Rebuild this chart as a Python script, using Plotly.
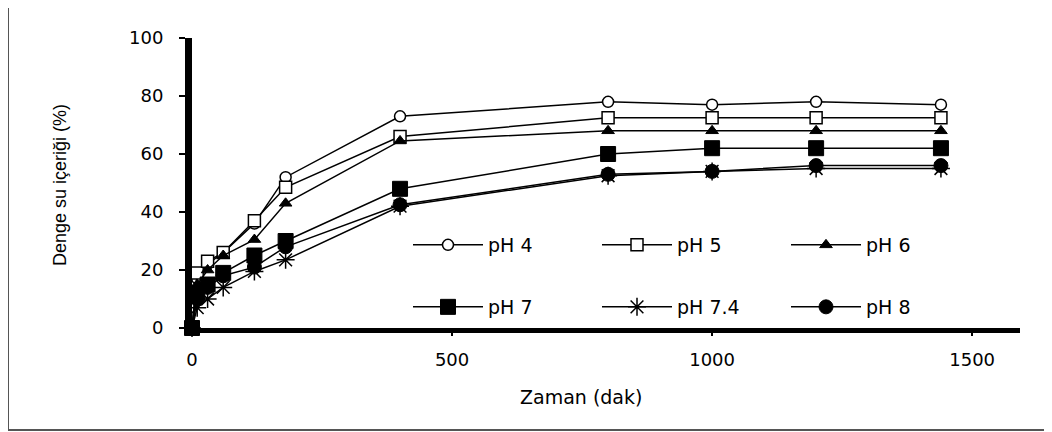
import plotly.graph_objects as go

time_min = [0, 10, 30, 60, 120, 180, 400, 800, 1000, 1200, 1440]
ph4 = [0, 17, 22, 26, 36, 52, 73, 78, 77, 78, 77]
ph5 = [0, 19, 23, 26, 37, 48.5, 66, 72.5, 72.5, 72.5, 72.5]
ph6 = [0, 15, 20, 25, 30.5, 43, 64.5, 68, 68, 68, 68]
ph7 = [0, 12, 15, 19, 25, 30, 48, 60, 62, 62, 62]
ph74 = [0, 7, 10, 14, 19.5, 23.5, 42, 52.5, 54, 55, 55]
ph8 = [0, 10, 14, 18, 21, 28, 42.5, 53, 54, 56, 56]

series_names = ["pH 4", "pH 5", "pH 6", "pH 7", "pH 7.4", "pH 8"]
series_values = [ph4, ph5, ph6, ph7, ph74, ph8]
x_ticks = [0, 500, 1000, 1500]
y_ticks = [0, 20, 40, 60, 80, 100]

styles = [
    dict(symbol="circle", size=11, color="white", lw=1.5, legend="legend"),
    dict(symbol="square", size=12, color="white", lw=1.5, legend="legend"),
    dict(symbol="triangle-up", size=11, color="black", lw=1, legend="legend"),
    dict(symbol="square", size=15, color="black", lw=1, legend="legend2"),
    dict(symbol="asterisk-open", size=15, color="black", lw=1.5, legend="legend2"),
    dict(symbol="circle", size=14, color="black", lw=1, legend="legend2"),
]

# the page body adds an 8px offset; work in reference-pixel coordinates
OFF = 8
W, H = 1052 - OFF, 432 - OFF
L = 192 - OFF
T = 38 - OFF
B = H - (328 - OFF)
R = W - (1020 - OFF)
pw, ph = W - L - R, H - T - B


def px_x(x):
    return (x - OFF - L) / pw


def px_y(y):
    return (H - B - (y - OFF)) / ph


fig = go.Figure()
for name, vals, st in zip(series_names, series_values, styles):
    fig.add_trace(go.Scatter(
        x=time_min, y=vals, name=name, mode="lines+markers",
        line=dict(color="black", width=1.5),
        marker=dict(symbol=st["symbol"], size=st["size"], color=st["color"],
                    line=dict(color="black", width=st["lw"])),
        cliponaxis=False, legend=st["legend"],
    ))

tick_font = dict(family="DejaVu Sans", size=18, color="black")
leg_font = dict(family="DejaVu Sans", size=19, color="black")

fig.update_layout(
    width=W, height=H,
    margin=dict(l=L, r=R, t=T, b=B),
    paper_bgcolor="white", plot_bgcolor="white",
    xaxis=dict(range=[0, 1592], tickvals=x_ticks, showgrid=False, zeroline=False,
               showline=True, linecolor="black", linewidth=5,
               ticks="outside", ticklen=3, tickwidth=2, tickcolor="black",
               tickfont=tick_font, ticklabelstandoff=8),
    yaxis=dict(range=[0, 100], tickvals=y_ticks, showgrid=False, zeroline=False,
               showline=True, linecolor="black", linewidth=7,
               ticks="outside", ticklen=6, tickwidth=1.5, tickcolor="black",
               tickfont=tick_font, ticklabelstandoff=12),
    legend=dict(orientation="h", x=px_x(408), xanchor="left", y=px_y(245), yanchor="middle",
                font=leg_font, entrywidth=104, itemwidth=70, bgcolor="rgba(0,0,0,0)"),
    legend2=dict(orientation="h", x=px_x(408), xanchor="left", y=px_y(307), yanchor="middle",
                 font=leg_font, entrywidth=104, itemwidth=70, bgcolor="rgba(0,0,0,0)"),
    annotations=[
        dict(text="Zaman (dak)", xref="paper", yref="paper", x=px_x(581), y=px_y(397),
             xanchor="center", yanchor="middle", showarrow=False,
             font=dict(family="DejaVu Sans", size=19, color="black")),
        dict(text="Denge su içeriği (%)", xref="paper", yref="paper", x=px_x(60), y=px_y(185),
             xanchor="center", yanchor="middle", showarrow=False, textangle=-90,
             font=dict(family="Liberation Sans", size=18, color="black")),
    ],
    shapes=[
        dict(type="rect", xref="paper", yref="paper",
             x0=px_x(8), x1=px_x(1070), y0=px_y(430), y1=px_y(3),
             line=dict(color="#555555", width=2), fillcolor="rgba(0,0,0,0)", layer="below"),
    ],
    showlegend=True,
)

fig.write_html("out.html")
